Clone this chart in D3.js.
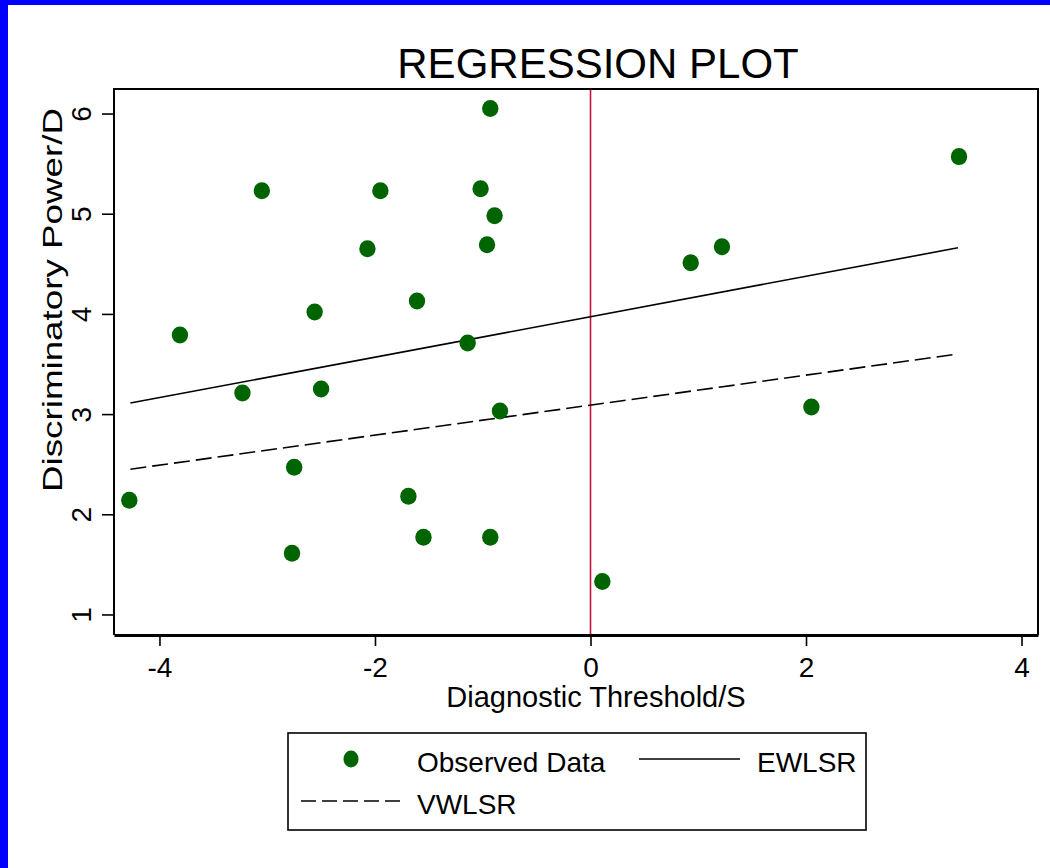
<!DOCTYPE html>
<html>
<head>
<meta charset="utf-8">
<script src="https://cdn.jsdelivr.net/npm/d3@7"></script>
<style>
  body { margin: 0; background: #fff; }
  text { font-family: "Liberation Sans", Arial, sans-serif; fill: #000; }
</style>
</head>
<body>
<div id="chart"></div>
<script>
//--------------------------- Data

var obsX = [-3.05, -1.95, -2.07, -2.56, -1.61, -3.81, -0.93, -1.02, -0.89, -0.96,
            -1.14, -3.23, -2.50, -2.75, -4.28, -2.77, -1.69, -1.55, -0.84, -0.93,
             0.11,  3.42,  1.22,  0.93,  2.05];
var obsY = [ 5.23,  5.23,  4.65,  4.02,  4.13,  3.79,  6.05,  5.25,  4.98,  4.69,
             3.71,  3.21,  3.25,  2.47,  2.14,  1.61,  2.18,  1.77,  3.03,  1.77,
             1.33,  5.57,  4.67,  4.51,  3.07];

var fitX = [-4.27, 3.41];
var ewlsrY = [3.11, 4.66];
var vwlsrY = [2.45, 3.60];

var xTicks = [-4, -2, 0, 2, 4];
var yTicks = [1, 2, 3, 4, 5, 6];

//--------------------------- SVG definition

var width = 1050;
var height = 868;

var svg = d3.select("#chart")
    .append("svg")
    .attr("width", width)
    .attr("height", height)

// blue frame of the graph window
svg.append("rect").attr("x", 0).attr("y", 0).attr("width", width).attr("height", 5).style("fill", "#0000ff")
svg.append("rect").attr("x", 0).attr("y", 0).attr("width", 8).attr("height", height).style("fill", "#0000ff")

//--------------------------- Scales

var pLeft = 114, pRight = 1038, pTop = 89, pBottom = 635;

var x = d3.scaleLinear()
    .domain([-4.422, 4.153])
    .range([pLeft, pRight]);

var y = d3.scaleLinear()
    .domain([0.795, 6.245])
    .range([pBottom, pTop]);

var fmt = function (d) { return String(d); }

var plot = svg.append("g")

//--------------------------- Reference line at 0

plot.append("line")
    .attr("x1", x(0)).attr("x2", x(0))
    .attr("y1", pTop).attr("y2", pBottom)
    .style("stroke", "#c8103c")
    .style("stroke-width", 1.6)

//--------------------------- Fitted lines

var pts = function (ys) { return fitX.map(function (d, i) { return [d, ys[i]]; }); }
var line = d3.line().x(function (d) { return x(d[0]); }).y(function (d) { return y(d[1]); });

plot.append("path")
    .attr("d", line(pts(ewlsrY)))
    .style("fill", "none").style("stroke", "#000").style("stroke-width", 1.6)

plot.append("path")
    .attr("d", line(pts(vwlsrY)))
    .style("fill", "none").style("stroke", "#000").style("stroke-width", 1.6)
    .style("stroke-dasharray", "16,6")

//--------------------------- Observed points

plot.selectAll("ellipse.obs")
    .data(obsX.map(function (d, i) { return [d, obsY[i]]; }))
    .enter()
    .append("ellipse")
    .attr("class", "obs")
    .attr("cx", function (d) { return x(d[0]); })
    .attr("cy", function (d) { return y(d[1]); })
    .attr("rx", 8.2)
    .attr("ry", 8.5)
    .style("fill", "#006400")

//--------------------------- Frame and axes

svg.append("path")
    .attr("d", "M" + pLeft + "," + pBottom + "V" + pTop + "H" + pRight + "V" + pBottom)
    .style("fill", "none").style("stroke", "#000").style("stroke-width", 2)

var xAxis = svg.append("g")
    .attr("transform", "translate(0," + pBottom + ")")
    .call(d3.axisBottom(x).tickValues(xTicks).tickSize(11).tickPadding(11).tickSizeOuter(0).tickFormat(fmt))
xAxis.select(".domain").style("stroke-width", 3.2)
xAxis.selectAll(".tick line").style("stroke-width", 1.6)
xAxis.selectAll("text").style("font-size", "28px").style("font-family", "Liberation Sans, Arial, sans-serif")

var yAxis = svg.append("g")
    .attr("transform", "translate(" + pLeft + ",0)")
    .call(d3.axisLeft(y).tickValues(yTicks).tickSize(12).tickFormat(fmt))
yAxis.select(".domain").remove()
yAxis.selectAll(".tick line").style("stroke-width", 1.6)
yAxis.selectAll("text")
    .attr("x", null).attr("dy", null)
    .attr("transform", "translate(-23,0) rotate(-90)")
    .style("text-anchor", "middle")
    .style("font-size", "28px").style("font-family", "Liberation Sans, Arial, sans-serif")

//--------------------------- Titles

svg.append("text")
    .attr("x", 598).attr("y", 78)
    .style("text-anchor", "middle").style("font-size", "42px")
    .text("REGRESSION PLOT")

svg.append("text")
    .attr("x", 596).attr("y", 707)
    .style("text-anchor", "middle").style("font-size", "29px")
    .text("Diagnostic Threshold/S")

svg.append("text")
    .attr("transform", "translate(62,300) rotate(-90)")
    .style("text-anchor", "middle").style("font-size", "28px")
    .attr("textLength", 384).attr("lengthAdjust", "spacingAndGlyphs")
    .text("Discriminatory Power/D")

//--------------------------- Legend

legend = svg.append("g")

legend.append("rect")
    .attr("x", 288).attr("y", 733).attr("width", 578).attr("height", 97)
    .style("fill", "#fff").style("stroke", "#000").style("stroke-width", 1.6)

legend.append("ellipse")
    .attr("cx", 351).attr("cy", 759).attr("rx", 7.5).attr("ry", 8.5)
    .style("fill", "#006400")

legend.append("text").attr("x", 417).attr("y", 772).style("font-size", "28px").text("Observed Data")

legend.append("line")
    .attr("x1", 639).attr("x2", 740).attr("y1", 759).attr("y2", 759)
    .style("stroke", "#000").style("stroke-width", 1.6)

legend.append("text").attr("x", 757).attr("y", 772).style("font-size", "28px").text("EWLSR")

legend.append("line")
    .attr("x1", 301).attr("x2", 402).attr("y1", 801).attr("y2", 801)
    .style("stroke", "#000").style("stroke-width", 1.6)
    .style("stroke-dasharray", "15,6")

legend.append("text").attr("x", 417).attr("y", 814).style("font-size", "28px").text("VWLSR")
</script>
</body>
</html>
